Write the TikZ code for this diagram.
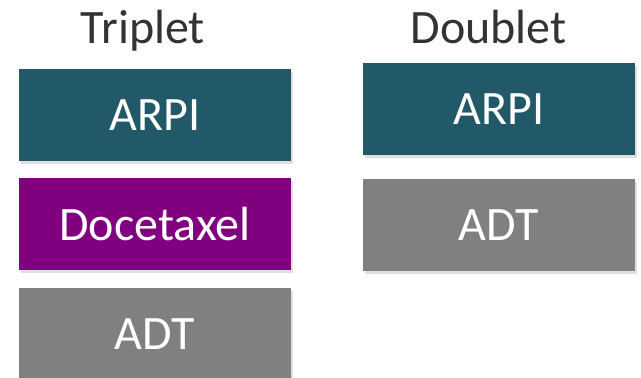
\documentclass[tikz,border=0pt]{standalone}
\usepackage{fontspec}
\setmainfont{Carlito}
\usetikzlibrary{shadows}
\definecolor{ArmTeal}{RGB}{33,89,104}
\definecolor{ArmPurple}{RGB}{128,0,128}
\definecolor{ArmGray}{RGB}{128,128,128}
\definecolor{HeadGray}{RGB}{51,51,51}
\begin{document}
\begin{tikzpicture}[x=1pt, y=1pt,
          arm/.style={rectangle, minimum width=272pt, minimum height=92pt,
                      inner sep=0pt, text=white, font=\fontsize{48}{50}\selectfont,
                      drop shadow={opacity=0.25, shadow xshift=2pt, shadow yshift=-3pt}},
          head/.style={anchor=base, inner sep=0pt, text=HeadGray,
                       font=\fontsize{48}{50}\selectfont}
        ]
        \useasboundingbox (0,0) rectangle (641,-378);
        \node[head] (trip) at (143, -43) {Triplet};
        \node[head] (doub) at (488.5, -43) {Doublet};

        \node[arm, fill=ArmTeal]   (tarpi) at (155, -115) {ARPI};
        \node[arm, fill=ArmPurple] (tdoc)  at (155, -224) {Docetaxel};
        \node[arm, fill=ArmGray]   (tadt)  at (155, -334) {ADT};

        \node[arm, fill=ArmTeal]   (darpi) at (499, -109) {ARPI};
        \node[arm, fill=ArmGray]   (dadt)  at (499, -225) {ADT};
      \end{tikzpicture}
\end{document}
